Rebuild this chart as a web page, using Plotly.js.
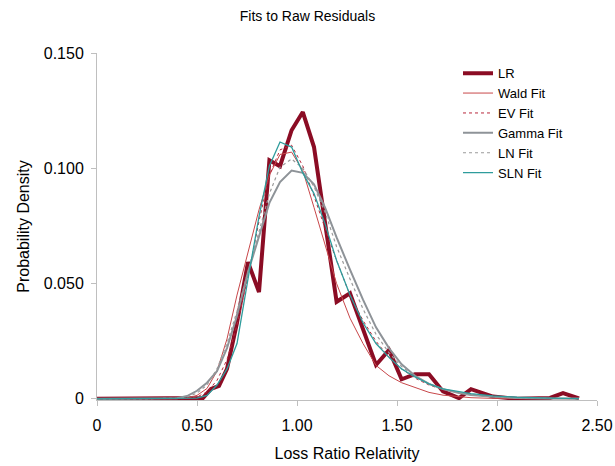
<!DOCTYPE html>
<html>
<head>
<meta charset="utf-8">
<script src="https://cdn.plot.ly/plotly-3.0.1.min.js"></script>
<style>html,body{margin:0;padding:0;background:#fff;}#chart{width:615px;height:466px;}</style>
</head>
<body>
<div id="chart"></div>
<script>
// Observed loss ratio relativity histogram
var lrX = [0, 0.5, 0.53, 0.57, 0.61, 0.65, 0.70, 0.755, 0.81, 0.862, 0.915, 0.973, 1.029, 1.085, 1.198, 1.265, 1.395, 1.46, 1.523, 1.59, 1.66, 1.73, 1.81, 1.87, 1.98, 2.1, 2.265, 2.33, 2.41];
var lrY = [0, 0, 0.0004, 0.0043, 0.0056, 0.013, 0.033, 0.0593, 0.0463, 0.1035, 0.1009, 0.1165, 0.1244, 0.1092, 0.0421, 0.0458, 0.0147, 0.0212, 0.0085, 0.0107, 0.0107, 0.0032, 0.0003, 0.0042, 0.001, 0, 0.0004, 0.0025, 0.0002];

// Fitted curves, read at common x positions
var fitX = [0, 0.35, 0.4, 0.45, 0.5, 0.55, 0.6, 0.65, 0.7, 0.755, 0.81, 0.862, 0.915, 0.973, 1.029, 1.085, 1.14, 1.198, 1.265, 1.33, 1.395, 1.46, 1.523, 1.59, 1.66, 1.73, 1.81, 1.87, 1.98, 2.1, 2.265, 2.41];
var waldY  = [0, 0, 0, 0.0003, 0.0015, 0.0045, 0.012, 0.026, 0.045, 0.064, 0.082, 0.097, 0.106, 0.107, 0.099, 0.083, 0.067, 0.050, 0.035, 0.024, 0.0145, 0.010, 0.007, 0.005, 0.0028, 0.0016, 0.0008, 0.0005, 0.0002, 0.0001, 0, 0];
var evY    = [0, 0, 0, 0.0001, 0.0008, 0.003, 0.008, 0.017, 0.032, 0.053, 0.077, 0.097, 0.108, 0.110, 0.101, 0.088, 0.074, 0.060, 0.045, 0.034, 0.025, 0.018, 0.013, 0.009, 0.006, 0.004, 0.0026, 0.0018, 0.001, 0.0005, 0.0002, 0.0001];
var gammaY = [0, 0, 0.0003, 0.0012, 0.0035, 0.007, 0.012, 0.022, 0.036, 0.055, 0.071, 0.085, 0.094, 0.099, 0.098, 0.093, 0.083, 0.070, 0.056, 0.043, 0.031, 0.022, 0.015, 0.010, 0.0065, 0.0042, 0.0025, 0.0017, 0.0009, 0.0004, 0.0002, 0.0001];
var lnY    = [0, 0, 0.0002, 0.0008, 0.0025, 0.006, 0.013, 0.024, 0.038, 0.055, 0.073, 0.089, 0.1005, 0.104, 0.100, 0.092, 0.081, 0.066, 0.052, 0.039, 0.028, 0.020, 0.014, 0.0098, 0.0065, 0.0043, 0.0026, 0.0018, 0.0009, 0.0004, 0.0002, 0.0001];
var slnY   = [0, 0, 0, 0, 0.0003, 0.0015, 0.006, 0.013, 0.024, 0.052, 0.079, 0.101, 0.1114, 0.1092, 0.098, 0.089, 0.076, 0.060, 0.045, 0.033, 0.024, 0.018, 0.013, 0.0095, 0.0065, 0.0043, 0.003, 0.0023, 0.0013, 0.0007, 0.0003, 0.0001];

var xTickVals = [0, 0.5, 1.0, 1.5, 2.0, 2.5];
var xTickText = ['0', '0.50', '1.00', '1.50', '2.00', '2.50'];
var yTickVals = [0, 0.05, 0.10, 0.15];
var yTickText = ['0', '0.050', '0.100', '0.150'];

var traces = [
  {x: lrX, y: lrY, name: 'LR', mode: 'lines', line: {color: '#8B0C24', width: 4}},
  {x: fitX, y: waldY, name: 'Wald Fit', mode: 'lines', line: {color: '#C8474A', width: 1}},
  {x: fitX, y: evY, name: 'EV Fit', mode: 'lines', line: {color: '#B8283C', width: 1, dash: 'dot'}},
  {x: fitX, y: gammaY, name: 'Gamma Fit', mode: 'lines', line: {color: '#8E9398', width: 2}},
  {x: fitX, y: lnY, name: 'LN Fit', mode: 'lines', line: {color: '#9A9A9A', width: 1.2, dash: 'dot'}},
  {x: fitX, y: slnY, name: 'SLN Fit', mode: 'lines', line: {color: '#2E9C9C', width: 1.3}}
];

var axisCol = '#BFBFBF';
var layout = {
  width: 615, height: 466,
  margin: {l: 97, r: 18, t: 53, b: 66},
  paper_bgcolor: '#ffffff', plot_bgcolor: '#ffffff',
  font: {family: 'Arial, "Liberation Sans", sans-serif', size: 16, color: '#000'},
  title: {text: 'Fits to Raw Residuals', font: {size: 14, color: '#000'}, x: 0.5, xref: 'container', xanchor: 'center', y: 0.966, yanchor: 'middle'},
  showlegend: true,
  legend: {x: 0.722, y: 0.985, xanchor: 'left', yanchor: 'top', bgcolor: 'rgba(0,0,0,0)', font: {size: 13}, tracegroupgap: 0},
  xaxis: {
    range: [0, 2.5], tickmode: 'array', tickvals: xTickVals, ticktext: xTickText,
    showline: true, linecolor: axisCol, linewidth: 1, ticks: 'outside', ticklen: 5, tickcolor: axisCol,
    ticklabelstandoff: 6,
    showgrid: false, zeroline: false, tickfont: {size: 16},
    title: {text: 'Loss Ratio Relativity', font: {size: 16}, standoff: 14}
  },
  yaxis: {
    range: [-0.0005, 0.15], tickmode: 'array', tickvals: yTickVals, ticktext: yTickText,
    showline: true, linecolor: axisCol, linewidth: 1, ticks: 'outside', ticklen: 5, tickcolor: axisCol,
    ticklabelstandoff: 4,
    showgrid: false, zeroline: false, tickfont: {size: 16},
    title: {text: 'Probability Density', font: {size: 16}, standoff: 10}
  }
};

Plotly.newPlot('chart', traces, layout, {displayModeBar: false, staticPlot: true});
</script>
</body>
</html>
